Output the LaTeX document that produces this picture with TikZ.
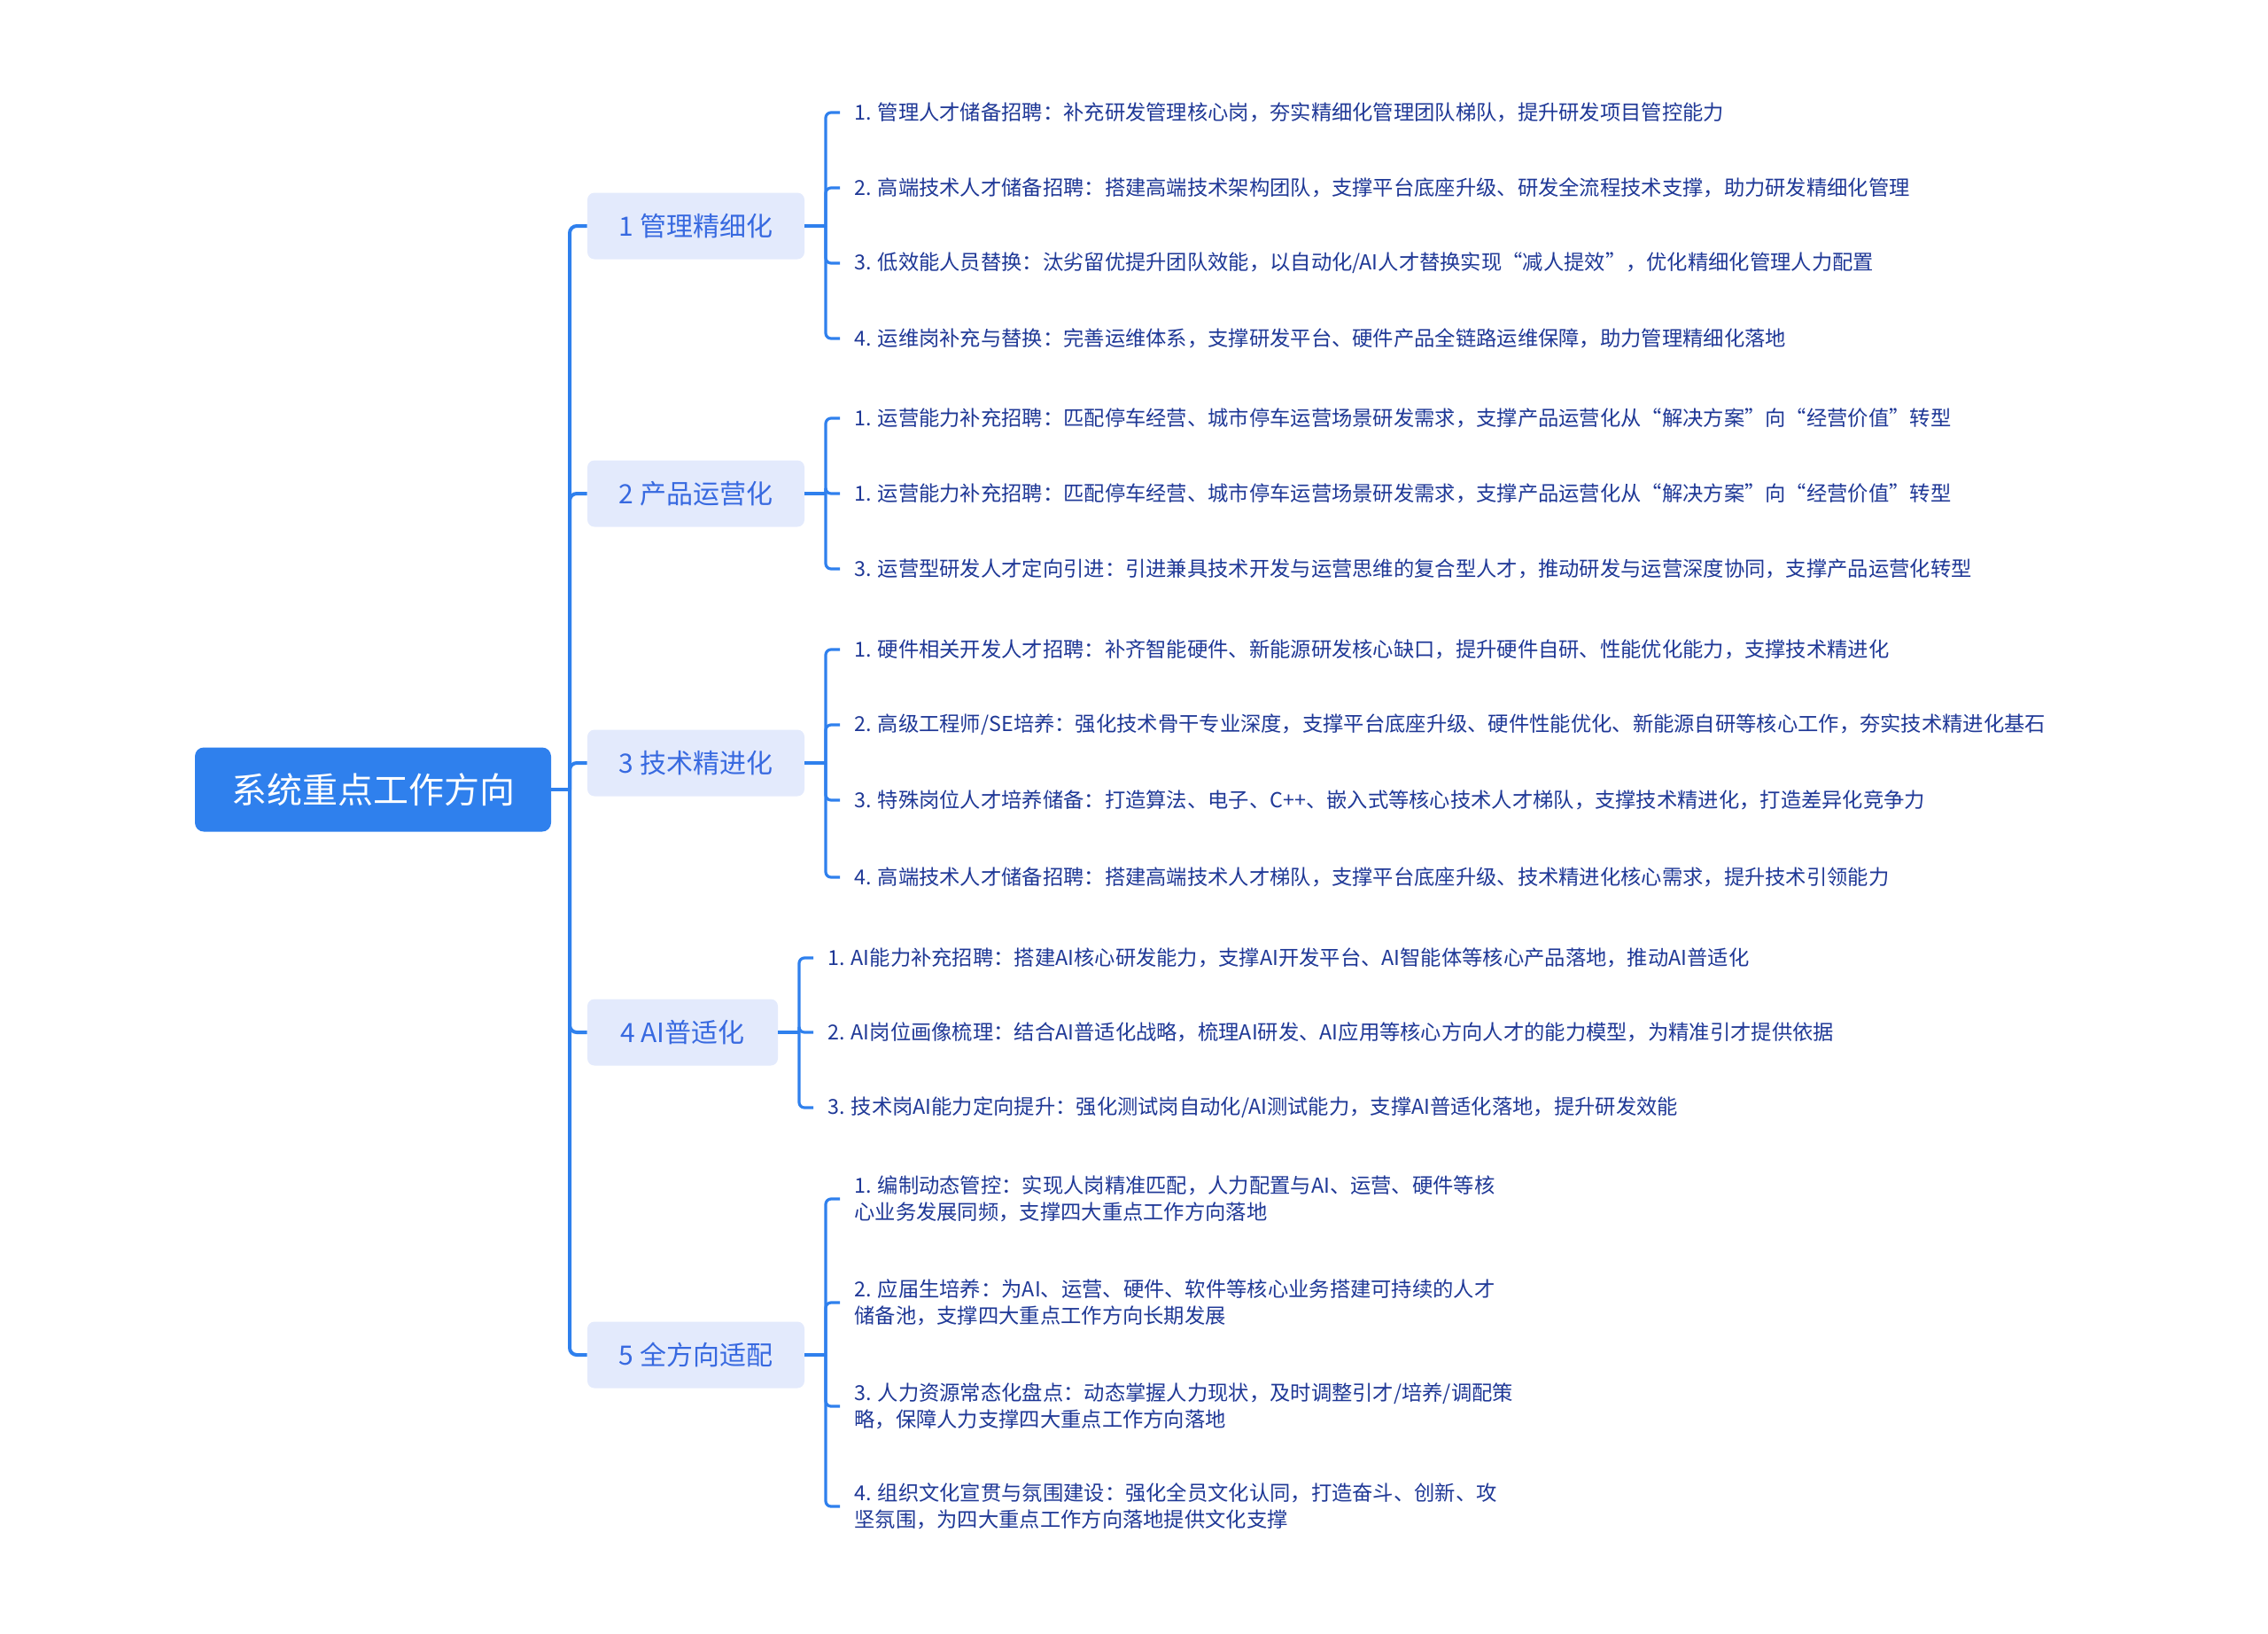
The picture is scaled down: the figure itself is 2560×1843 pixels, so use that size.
\documentclass[tikz,border=0pt]{standalone}
\usepackage{fontspec}
\setmainfont{Noto Sans CJK SC}
\definecolor{mainblue}{HTML}{2F80ED}
\definecolor{midfill}{HTML}{E3EAFC}
\definecolor{midtext}{HTML}{3769E0}
\definecolor{leaftext}{HTML}{1F3896}
\begin{document}
\begin{tikzpicture}[x=0.5pt,y=-0.5pt,
 rootbox/.style={fill=mainblue, rounded corners=5pt, text=white, font=\fontsize{20}{24}\selectfont, minimum width=201pt, minimum height=47.5pt, inner sep=0pt},
 midbox/.style={fill=midfill, rounded corners=4pt, text=midtext, font=\fontsize{15}{18}\selectfont, minimum width=122.5pt, minimum height=37.5pt, inner sep=0pt},
 midboxs/.style={midbox, minimum width=107.5pt},
 leaf/.style={anchor=west, text=leaftext, font=\fontsize{11.65}{15}\selectfont, inner xsep=8pt, inner ysep=0pt, align=left},
 trunk/.style={draw=mainblue, line width=2pt, rounded corners=4pt},
 conn/.style={draw=mainblue, line width=1.6pt, rounded corners=3pt},
]
\useasboundingbox (0,0) rectangle (2560,1843);
% root
\node[rootbox] (root) at (421,891) {系统重点工作方向};
% main branches
\node[midbox] (m1) at (785.5,255) {1 管理精细化};
\node[midbox] (m2) at (785.5,557) {2 产品运营化};
\node[midbox] (m3) at (785.5,861) {3 技术精进化};
\node[midboxs] (m4) at (770.5,1165) {4 AI普适化};
\node[midbox] (m5) at (785.5,1529) {5 全方向适配};
% trunk
\coordinate (J0) at (643,891);
\draw[trunk] (root.east) -- (J0);
\foreach \m in {m1,m2,m3,m4,m5} {\draw[trunk] (J0) |- (\m.west);}
% group 1
\node[leaf] (a1) at (948,127) {1. 管理人才储备招聘：补充研发管理核心岗，夯实精细化管理团队梯队，提升研发项目管控能力};
\node[leaf] (a2) at (948,212) {2. 高端技术人才储备招聘：搭建高端技术架构团队，支撑平台底座升级、研发全流程技术支撑，助力研发精细化管理};
\node[leaf] (a3) at (948,297) {3. 低效能人员替换：汰劣留优提升团队效能，以自动化/AI人才替换实现“减人提效”，优化精细化管理人力配置};
\node[leaf] (a4) at (948,382) {4. 运维岗补充与替换：完善运维体系，支撑研发平台、硬件产品全链路运维保障，助力管理精细化落地};
\coordinate (J1) at (932,255);
\draw[conn] (m1.east) -- (J1);
\foreach \l in {a1,a2,a3,a4} {\draw[conn] (J1) |- (\l.west);}
% group 2
\node[leaf] (b1) at (948,472) {1. 运营能力补充招聘：匹配停车经营、城市停车运营场景研发需求，支撑产品运营化从“解决方案”向“经营价值”转型};
\node[leaf] (b2) at (948,557) {1. 运营能力补充招聘：匹配停车经营、城市停车运营场景研发需求，支撑产品运营化从“解决方案”向“经营价值”转型};
\node[leaf] (b3) at (948,642) {3. 运营型研发人才定向引进：引进兼具技术开发与运营思维的复合型人才，推动研发与运营深度协同，支撑产品运营化转型};
\coordinate (J2) at (932,557);
\draw[conn] (m2.east) -- (J2);
\foreach \l in {b1,b2,b3} {\draw[conn] (J2) |- (\l.west);}
% group 3
\node[leaf] (c1) at (948,733) {1. 硬件相关开发人才招聘：补齐智能硬件、新能源研发核心缺口，提升硬件自研、性能优化能力，支撑技术精进化};
\node[leaf] (c2) at (948,818) {2. 高级工程师/SE培养：强化技术骨干专业深度，支撑平台底座升级、硬件性能优化、新能源自研等核心工作，夯实技术精进化基石};
\node[leaf] (c3) at (948,903) {3. 特殊岗位人才培养储备：打造算法、电子、C++、嵌入式等核心技术人才梯队，支撑技术精进化，打造差异化竞争力};
\node[leaf] (c4) at (948,990) {4. 高端技术人才储备招聘：搭建高端技术人才梯队，支撑平台底座升级、技术精进化核心需求，提升技术引领能力};
\coordinate (J3) at (932,861);
\draw[conn] (m3.east) -- (J3);
\foreach \l in {c1,c2,c3,c4} {\draw[conn] (J3) |- (\l.west);}
% group 4
\node[leaf] (d1) at (918,1081) {1. AI能力补充招聘：搭建AI核心研发能力，支撑AI开发平台、AI智能体等核心产品落地，推动AI普适化};
\node[leaf] (d2) at (918,1165) {2. AI岗位画像梳理：结合AI普适化战略，梳理AI研发、AI应用等核心方向人才的能力模型，为精准引才提供依据};
\node[leaf] (d3) at (918,1250) {3. 技术岗AI能力定向提升：强化测试岗自动化/AI测试能力，支撑AI普适化落地，提升研发效能};
\coordinate (J4) at (902,1165);
\draw[conn] (m4.east) -- (J4);
\foreach \l in {d1,d2,d3} {\draw[conn] (J4) |- (\l.west);}
% group 5
\node[leaf] (e1) at (948,1353) {1. 编制动态管控：实现人岗精准匹配，人力配置与AI、运营、硬件等核\\心业务发展同频，支撑四大重点工作方向落地};
\node[leaf] (e2) at (948,1470) {2. 应届生培养：为AI、运营、硬件、软件等核心业务搭建可持续的人才\\储备池，支撑四大重点工作方向长期发展};
\node[leaf] (e3) at (948,1587) {3. 人力资源常态化盘点：动态掌握人力现状，及时调整引才/培养/调配策\\略，保障人力支撑四大重点工作方向落地};
\node[leaf] (e4) at (948,1700) {4. 组织文化宣贯与氛围建设：强化全员文化认同，打造奋斗、创新、攻\\坚氛围，为四大重点工作方向落地提供文化支撑};
\coordinate (J5) at (932,1529);
\draw[conn] (m5.east) -- (J5);
\foreach \l in {e1,e2,e3,e4} {\draw[conn] (J5) |- (\l.west);}
\end{tikzpicture}
\end{document}
